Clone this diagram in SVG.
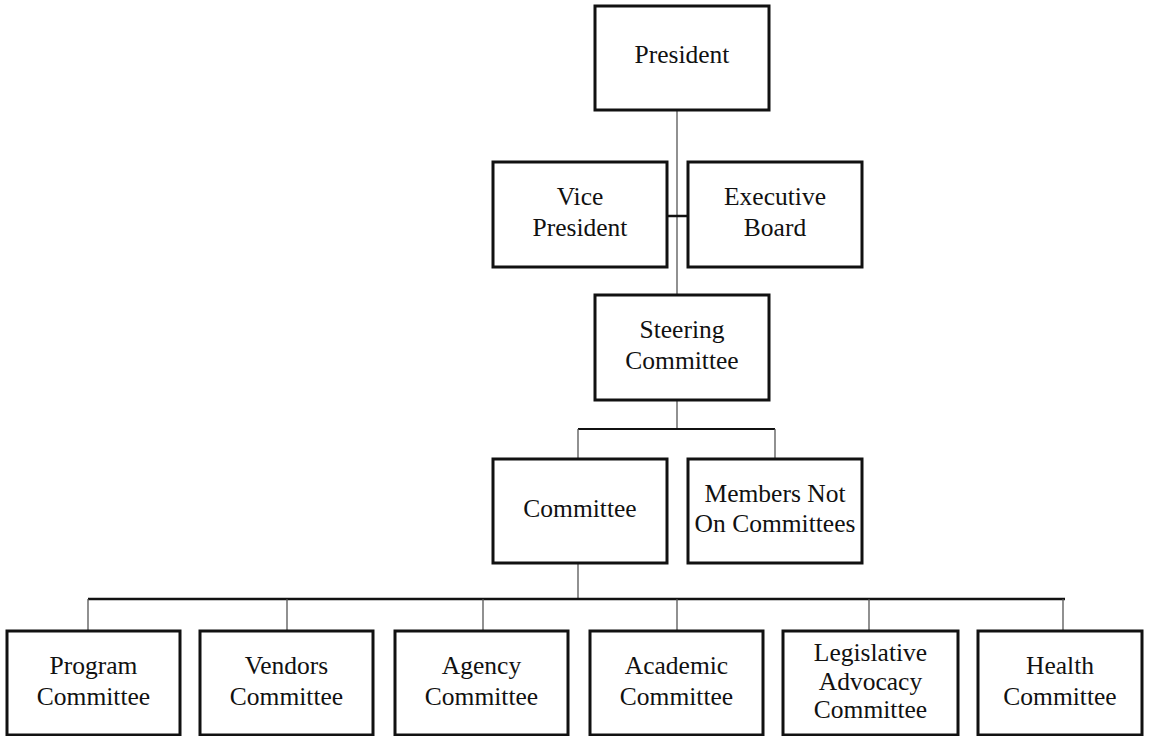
<svg xmlns="http://www.w3.org/2000/svg" width="1155" height="736" viewBox="0 0 1155 736">
<style>
.box{fill:#fff;stroke:#111;stroke-width:3}
.t{font-family:"Liberation Serif","Times New Roman",serif;font-size:25.5px;fill:#111;text-anchor:middle}
.thin{stroke:#555;stroke-width:1.3;fill:none}
.bar{stroke:#111;stroke-width:2.5;fill:none}
</style>
<rect width="1155" height="736" fill="#fff"/>
<g id="connectors">
<line class="thin" x1="677" y1="110" x2="677" y2="295"/>
<line class="bar" x1="667" y1="216" x2="688" y2="216"/>
<line class="thin" x1="677" y1="400" x2="677" y2="429"/>
<polyline class="bar" points="578,429 775,429" style="stroke-width:2"/>
<line class="thin" x1="578" y1="429" x2="578" y2="459"/>
<line class="thin" x1="775" y1="429" x2="775" y2="459"/>
<line class="thin" x1="578" y1="563" x2="578" y2="599"/>
<line class="bar" x1="88" y1="599" x2="1065" y2="599"/>
<line class="thin" x1="88" y1="599" x2="88" y2="631"/>
<line class="thin" x1="287" y1="599" x2="287" y2="631"/>
<line class="thin" x1="483" y1="599" x2="483" y2="631"/>
<line class="thin" x1="677" y1="599" x2="677" y2="631"/>
<line class="thin" x1="869" y1="599" x2="869" y2="631"/>
<line class="thin" x1="1063" y1="599" x2="1063" y2="631"/>
</g>
<g id="president"><rect class="box" x="595" y="6" width="174" height="104"/><text class="t" x="682" y="63">President</text></g>
<g id="vice-president"><rect class="box" x="493" y="162" width="174" height="105"/><text class="t" x="580" y="205">Vice</text><text class="t" x="580" y="236">President</text></g>
<g id="executive-board"><rect class="box" x="688" y="162" width="174" height="105"/><text class="t" x="775" y="205">Executive</text><text class="t" x="775" y="236">Board</text></g>
<g id="steering-committee"><rect class="box" x="595" y="295" width="174" height="105"/><text class="t" x="682" y="338">Steering</text><text class="t" x="682" y="369">Committee</text></g>
<g id="committee"><rect class="box" x="493" y="459" width="174" height="104"/><text class="t" x="580" y="516.5">Committee</text></g>
<g id="members-not-on-committees"><rect class="box" x="688" y="459" width="174" height="104"/><text class="t" x="775" y="501.5">Members Not</text><text class="t" x="775" y="531.5">On Committees</text></g>
<g id="program-committee"><rect class="box" x="7" y="631" width="173" height="104"/><text class="t" x="93.5" y="674">Program</text><text class="t" x="93.5" y="705">Committee</text></g>
<g id="vendors-committee"><rect class="box" x="200" y="631" width="173" height="104"/><text class="t" x="286.5" y="674">Vendors</text><text class="t" x="286.5" y="705">Committee</text></g>
<g id="agency-committee"><rect class="box" x="395" y="631" width="173" height="104"/><text class="t" x="481.5" y="674">Agency</text><text class="t" x="481.5" y="705">Committee</text></g>
<g id="academic-committee"><rect class="box" x="590" y="631" width="173" height="104"/><text class="t" x="676.5" y="674">Academic</text><text class="t" x="676.5" y="705">Committee</text></g>
<g id="legislative-advocacy-committee"><rect class="box" x="783" y="631" width="175" height="104"/><text class="t" x="870.5" y="661">Legislative</text><text class="t" x="870.5" y="690">Advocacy</text><text class="t" x="870.5" y="718">Committee</text></g>
<g id="health-committee"><rect class="box" x="978" y="631" width="164" height="104"/><text class="t" x="1060" y="674">Health</text><text class="t" x="1060" y="705">Committee</text></g>
</svg>
